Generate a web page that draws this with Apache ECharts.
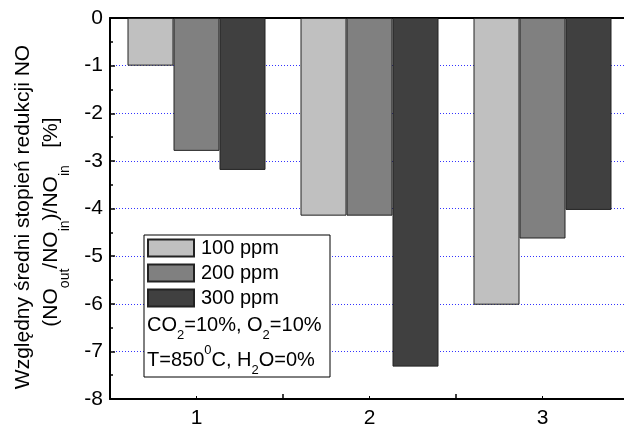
<!DOCTYPE html>
<html>
<head>
<meta charset="utf-8">
<script src="https://cdn.jsdelivr.net/npm/echarts@6/dist/echarts.min.js"></script>
<style>
html,body{margin:0;padding:0;background:#fff;}
#c{width:624px;height:429px;}
</style>
</head>
<body>
<div id="c"></div>
<script>
const categories = ['1', '2', '3'];
const seriesNames = ['100 ppm', '200 ppm', '300 ppm'];
const values100 = [-1.0, -4.15, -6.02];
const values200 = [-2.79, -4.15, -4.63];
const values300 = [-3.19, -7.32, -4.03];
const yMin = -8, yMax = 0, yStep = 1;
const colors = ['#c0c0c0', '#808080', '#404040'];
const FONT = 'Liberation Sans, Arial, sans-serif';

const chart = echarts.init(document.getElementById('c'), null, {renderer: 'canvas'});

const mkSeries = (name, data, color) => ({
  name, type: 'bar', data, xAxisIndex: 0, yAxisIndex: 0,
  barWidth: 46, barGap: '0%',
  itemStyle: {color, borderColor: '#222', borderWidth: 1},
  emphasis: {disabled: true}, z: 5
});

const mk = (fs, subFs, lh) => ({
  n: {fontSize: fs, fontFamily: FONT, color: '#000', lineHeight: lh, verticalAlign: 'middle'},
  s: {fontSize: subFs, fontFamily: FONT, color: '#000', lineHeight: 1, verticalAlign: 'bottom'},
  p: {fontSize: subFs, fontFamily: FONT, color: '#000', lineHeight: 1, verticalAlign: 'top'}
});

chart.setOption({
  animation: false,
  backgroundColor: '#fff',
  grid: {left: 110, top: 18, right: -5, bottom: 30, containLabel: false, outerBoundsMode: 'none'},
  xAxis: [
    {type: 'category', data: categories, position: 'bottom',
     axisLine: {show: true, onZero: false, lineStyle: {color: '#000', width: 2}},
     axisTick: {show: true, inside: true, length: 5, lineStyle: {color: '#000', width: 1.5}},
     axisLabel: {color: '#000', fontSize: 21, fontFamily: FONT, margin: 9},
     splitLine: {show: false}},
    {type: 'category', data: categories, position: 'top',
     axisLine: {show: true, onZero: false, lineStyle: {color: '#000', width: 2}},
     axisTick: {show: false}, axisLabel: {show: false}, splitLine: {show: false}},
    {type: 'category', data: categories, position: 'bottom',
     axisLine: {show: false, onZero: false},
     axisTick: {show: true, inside: true, alignWithLabel: true, length: 3, lineStyle: {color: '#000', width: 1}},
     axisLabel: {show: false}, splitLine: {show: false}}
  ],
  yAxis: {
    type: 'value', min: yMin, max: yMax, interval: yStep,
    axisLine: {show: true, onZero: false, lineStyle: {color: '#000', width: 2}},
    axisTick: {show: true, inside: true, length: 5, lineStyle: {color: '#000', width: 1.5}},
    minorTick: {show: true, splitNumber: 2, length: 3, lineStyle: {color: '#000', width: 1.5}},
    axisLabel: {color: '#000', fontSize: 21, fontFamily: FONT, margin: 7},
    splitLine: {show: true, lineStyle: {color: '#3333ff', width: 1, type: [1, 2]}}
  },
  legend: {
    data: seriesNames, orient: 'vertical', left: 147, top: 238, padding: 0,
    icon: 'rect', itemWidth: 46, itemHeight: 17, itemGap: 5,
    textStyle: {color: '#000', fontSize: 20, fontFamily: FONT, padding: [0, 0, 0, 2]},
    selectedMode: false, z: 20
  },
  graphic: [
    {type: 'rect', shape: {x: 144, y: 235, width: 186, height: 142},
     style: {fill: '#fff', stroke: '#000', lineWidth: 1}, z: 10},
    {type: 'text', x: 147, y: 325, z: 20,
     style: {text: '{n|CO}{s|2}{n|=10%, O}{s|2}{n|=10%}', align: 'left', verticalAlign: 'middle', rich: mk(20, 13, 33)}},
    {type: 'text', x: 147, y: 360, z: 20,
     style: {text: '{n|T=850}{p|0}{n|C, H}{s|2}{n|O=0%}', align: 'left', verticalAlign: 'middle', rich: mk(20, 13, 33)}},
    {type: 'text', x: 23, y: 217, rotation: Math.PI / 2, z: 20,
     style: {text: '{n|Względny średni stopień redukcji NO}', align: 'center', verticalAlign: 'middle', rich: mk(21, 14, 24)}},
    {type: 'text', x: 51, y: 222, rotation: Math.PI / 2, z: 20,
     style: {text: '{n|(NO}{s|out}{n|/NO}{s|in}{n|)/NO}{s|in}{n|   [%]}', align: 'center', verticalAlign: 'middle', rich: mk(21, 14, 42)}}
  ],
  series: [
    mkSeries(seriesNames[0], values100, colors[0]),
    mkSeries(seriesNames[1], values200, colors[1]),
    mkSeries(seriesNames[2], values300, colors[2])
  ]
});
</script>
</body>
</html>
